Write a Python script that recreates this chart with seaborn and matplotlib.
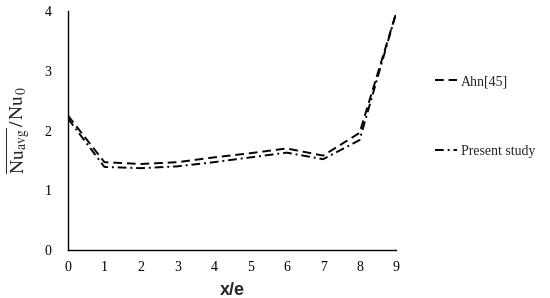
import numpy as np
import pandas as pd
import matplotlib
matplotlib.use("Agg")
import matplotlib.pyplot as plt
import seaborn as sns

# values
x_e = [0, 1, 2, 3, 4, 5, 6, 7, 8, 9]
ahn = [2.25, 1.47, 1.44, 1.47, 1.55, 1.62, 1.70, 1.58, 1.96, 3.96]
present = [2.20, 1.39, 1.37, 1.40, 1.47, 1.55, 1.63, 1.52, 1.84, 3.96]

sns.set_style("white")
plt.rcParams["font.family"] = ["Liberation Serif", "DejaVu Serif"]
plt.rcParams["mathtext.fontset"] = "stix"

df = pd.DataFrame({"x": x_e * 2,
                   "y": ahn + present,
                   "src": ["Ahn[45]"] * len(x_e) + ["Present study"] * len(x_e)})

fig = plt.figure(figsize=(5.5, 2.98), dpi=100)
ax = fig.add_axes([0.1236, 0.161, 0.5964, 0.802])

sns.lineplot(data=df[df.src == "Ahn[45]"], x="x", y="y", ax=ax,
             color="black", lw=1.4, label="Ahn[45]")
sns.lineplot(data=df[df.src == "Present study"], x="x", y="y", ax=ax,
             color="black", lw=1.4, label="Present study")
l1, l2 = ax.get_lines()[:2]
l1.set_dashes((4.5, 2.5))
l2.set_dashes((4.5, 2, 1, 2))

ax.set_xlim(0, 9)
ax.set_ylim(0, 4)
ax.set_xticks(range(0, 10))
ax.set_yticks(range(0, 5))
for s in ["top", "right"]:
    ax.spines[s].set_visible(False)
for s in ["left", "bottom"]:
    ax.spines[s].set_color("black")
    ax.spines[s].set_linewidth(1.0)
ax.tick_params(direction="in", length=3, width=1, colors="black", labelsize=10)
ax.tick_params(axis="x", pad=8)
ax.tick_params(axis="y", pad=12)
ax.set_xlabel("x/e", fontfamily="Liberation Sans", fontweight="bold", fontsize=13, labelpad=6)
ax.set_ylabel(r"$\overline{\mathrm{Nu}_{\mathrm{avg}}}\,/\,\mathrm{Nu}_{0}$", fontsize=14, labelpad=8)
ax.get_legend().remove()

fig.legend([l1, l2], ["Ahn[45]", "Present study"], loc="upper left",
           bbox_to_anchor=(0.768, 0.79), frameon=False, fontsize=10,
           handlelength=1.6, handletextpad=0.3, labelspacing=4.1)

fig.savefig("out.png", dpi=100)
